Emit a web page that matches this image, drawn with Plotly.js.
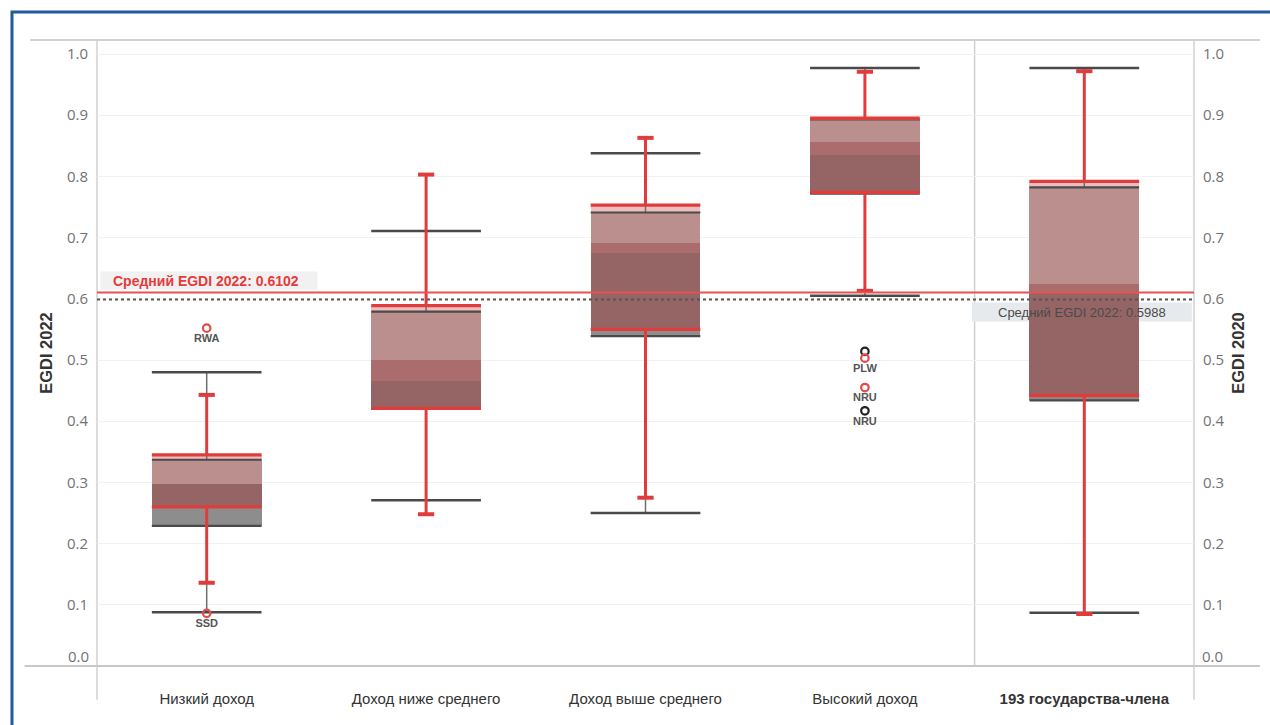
<!DOCTYPE html>
<html>
<head>
<meta charset="utf-8">
<script src="https://cdn.plot.ly/plotly-3.0.1.min.js"></script>
<style>
  html, body { margin: 0; padding: 0; background: #ffffff; }
  #chart { width: 1270px; height: 725px; }
</style>
</head>
<body>
<div id="chart"></div>
<script>
// Income groups (last column: all member states)
const categories = ['Низкий доход', 'Доход ниже среднего', 'Доход выше среднего', 'Высокий доход', '193 государства-члена'];

// EGDI 2022 box statistics
const q1_2022  = [0.260, 0.421, 0.550, 0.774, 0.442];
const med_2022 = [0.298, 0.500, 0.691, 0.857, 0.625];
const q3_2022  = [0.345, 0.589, 0.753, 0.895, 0.792];
const lo_2022  = [0.136, 0.248, 0.275, 0.613, 0.085];
const hi_2022  = [0.443, 0.803, 0.863, 0.971, 0.972];

// EGDI 2020 box statistics
const q1_2020  = [0.229, 0.420, 0.539, 0.772, 0.434];
const med_2020 = [0.297, 0.465, 0.675, 0.835, 0.611];
const q3_2020  = [0.337, 0.579, 0.741, 0.893, 0.782];
const lo_2020  = [0.088, 0.271, 0.250, 0.605, 0.087];
const hi_2020  = [0.480, 0.711, 0.838, 0.977, 0.977];

// Outlying countries
const out2022_cat = [0, 0, 3, 3];
const out2022_val = [0.552, 0.086, 0.503, 0.455];
const out2022_lab = ['RWA', 'SSD', 'PLW', 'NRU'];
const out2020_cat = [3, 3];
const out2020_val = [0.514, 0.417];
const out2020_lab = ['', 'NRU'];

// Averages
const MEAN_2022 = 0.6102;
const MEAN_2020 = 0.5988;
const meanLabel2022 = 'Средний EGDI 2022: 0.6102';
const meanLabel2020 = 'Средний EGDI 2022: 0.5988';

const yTitleLeft = 'EGDI 2022';
const yTitleRight = 'EGDI 2020';

// Value axis ticks (the zero label sits just above the base rule)
const yTicks = [0.1, 0.2, 0.3, 0.4, 0.5, 0.6, 0.7, 0.8, 0.9, 1.0];
const yZero = 0;

// ---- styling ----
const RED = '#e03c3c';
const DARK = '#4a4a4a';
const BOX_HALF = 0.25;
const RED_CAP_HALF = 0.037;
const FONT = 'Liberation Sans, Arial, sans-serif';
const TICK_FONT = { family: 'Open Sans, sans-serif', size: 15, color: '#727272' };

// Fill colour for each band, keyed by (2022 part, 2020 part):
// U = upper half of box, L = lower half, N = outside box
const BAND_COLORS = {
  UN: '#ecbebe', NU: '#c9c9c9', UU: '#bc8f8f', UL: '#aa6c6c',
  LU: '#aa6c6c', LL: '#956565', NL: '#8d8d8d', LN: '#d67777'
};

function part(v, q1, m, q3) {
  if (v >= q1 && v <= m) return 'L';
  if (v >= m && v <= q3) return 'U';
  return 'N';
}

// Split each pair of overlapping boxes into uniform bands
const buckets = {};
categories.forEach((c, i) => {
  const pts = [q1_2022[i], med_2022[i], q3_2022[i], q1_2020[i], med_2020[i], q3_2020[i]]
    .sort((a, b) => a - b);
  for (let k = 0; k < pts.length - 1; k++) {
    const lo = pts[k], hi = pts[k + 1];
    if (hi - lo <= 0) continue;
    const mid = (lo + hi) / 2;
    const key = part(mid, q1_2022[i], med_2022[i], q3_2022[i]) +
                part(mid, q1_2020[i], med_2020[i], q3_2020[i]);
    if (key === 'NN') continue;
    if (!buckets[key]) buckets[key] = { x: [], base: [], y: [] };
    buckets[key].x.push(i);
    buckets[key].base.push(lo);
    buckets[key].y.push(hi - lo);
  }
});

const traces = [];
Object.keys(buckets).forEach(key => {
  const b = buckets[key];
  traces.push({
    type: 'bar', x: b.x, base: b.base, y: b.y, width: 2 * BOX_HALF,
    marker: { color: BAND_COLORS[key], line: { width: 0 } },
    hoverinfo: 'skip', showlegend: false
  });
});

// Horizontal segments at given values, centred on category index
function hSegs(values, half) {
  const xs = [], ys = [];
  values.forEach((v, i) => { xs.push(i - half, i + half, null); ys.push(v, v, null); });
  return { xs, ys };
}
// Vertical segments between two value arrays
function vSegs(from, to) {
  const xs = [], ys = [];
  from.forEach((v, i) => { xs.push(i, i, null); ys.push(v, to[i], null); });
  return { xs, ys };
}
function lineTrace(seg, color, width) {
  return {
    type: 'scatter', mode: 'lines', x: seg.xs, y: seg.ys,
    line: { color: color, width: width }, hoverinfo: 'skip', showlegend: false, cliponaxis: false
  };
}
function concat(a, b) { return { xs: a.xs.concat(b.xs), ys: a.ys.concat(b.ys) }; }

// EGDI 2020: whiskers, caps and hinges
traces.push(lineTrace(concat(vSegs(q3_2020, hi_2020), vSegs(lo_2020, q1_2020)), '#6e6e6e', 1.5));
traces.push(lineTrace(concat(hSegs(hi_2020, BOX_HALF), hSegs(lo_2020, BOX_HALF)), DARK, 2.5));
traces.push(lineTrace(concat(hSegs(q1_2020, BOX_HALF), hSegs(q3_2020, BOX_HALF)), DARK, 2.2));

// EGDI 2022: whiskers, caps and hinges
traces.push(lineTrace(concat(vSegs(q3_2022, hi_2022), vSegs(lo_2022, q1_2022)), RED, 3));
traces.push(lineTrace(concat(hSegs(hi_2022, RED_CAP_HALF), hSegs(lo_2022, RED_CAP_HALF)), RED, 4));
traces.push(lineTrace(concat(hSegs(q1_2022, BOX_HALF), hSegs(q3_2022, BOX_HALF)), RED, 3.3));

// Outliers
const outFont = { family: FONT, size: 11, color: '#555555' };
traces.push({
  type: 'scatter', mode: 'markers+text', x: out2020_cat, y: out2020_val,
  text: out2020_lab.map(t => t ? '<b>' + t + '</b>' : ''),
  textposition: 'bottom center', textfont: outFont,
  marker: { symbol: 'circle-open', size: 7.5, color: '#222222', line: { width: 2.2 } },
  hoverinfo: 'skip', showlegend: false
});
traces.push({
  type: 'scatter', mode: 'markers+text', x: out2022_cat, y: out2022_val,
  text: out2022_lab.map(t => '<b>' + t + '</b>'),
  textposition: 'bottom center', textfont: outFont,
  marker: { symbol: 'circle-open', size: 7.5, color: '#e44a4a', line: { width: 2.2 } },
  hoverinfo: 'skip', showlegend: false
});

const Y_MAX = 1.0229;

const layout = {
  width: 1270, height: 725,
  margin: { l: 97, r: 76, t: 40, b: 59 },
  paper_bgcolor: '#ffffff', plot_bgcolor: '#ffffff',
  barmode: 'overlay', bargap: 0,
  showlegend: false,
  font: { family: FONT },
  xaxis: {
    type: 'linear', range: [-0.5, 4.5], fixedrange: true,
    tickvals: categories.map((c, i) => i),
    ticktext: categories.map((c, i) => i === categories.length - 1 ? '<b>' + c + '</b>' : c),
    tickfont: { family: FONT, size: 15, color: '#333333' },
    ticks: 'outside', ticklen: 19, tickcolor: 'rgba(0,0,0,0)',
    showgrid: false, zeroline: false, showline: false
  },
  yaxis: {
    range: [0, Y_MAX], fixedrange: true,
    tickvals: yTicks, tickformat: '.1f', tickfont: TICK_FONT,
    ticks: 'outside', ticklen: 5, tickcolor: 'rgba(0,0,0,0)',
    showgrid: true, gridcolor: '#f0f2f4', gridwidth: 1,
    zeroline: false, showline: false,
    title: { text: '<b>' + yTitleLeft + '</b>', font: { family: FONT, size: 16.5, color: '#333333' }, standoff: 10 }
  },
  yaxis2: {
    overlaying: 'y', side: 'right', range: [0, Y_MAX], fixedrange: true,
    tickvals: yTicks, tickformat: '.1f', tickfont: TICK_FONT,
    ticks: 'outside', ticklen: 5, tickcolor: 'rgba(0,0,0,0)',
    showgrid: false, zeroline: false, showline: false,
    title: { text: '<b>' + yTitleRight + '</b>', font: { family: FONT, size: 16.5, color: '#333333' }, standoff: 8 }
  },
  shapes: [
    // outer frame
    { type: 'rect', xref: 'paper', yref: 'paper', x0: -0.0775, x1: 1.2, y0: -0.2, y1: 1.0447,
      line: { color: '#1f5c9c', width: 3 }, layer: 'below' },
    // top and bottom rules
    { type: 'line', xref: 'paper', yref: 'paper', x0: -0.061, x1: 1.06, y0: 1, y1: 1,
      line: { color: '#d2d2d2', width: 2 }, layer: 'below' },
    { type: 'line', xref: 'paper', yref: 'paper', x0: -0.066, x1: 1.06, y0: 0, y1: 0,
      line: { color: '#c8c8c8', width: 2 }, layer: 'above' },
    // left and right axis rules
    { type: 'line', xref: 'paper', yref: 'paper', x0: 0, x1: 0, y0: -0.054, y1: 1,
      line: { color: '#d0d0d0', width: 1.5 }, layer: 'below' },
    { type: 'line', xref: 'paper', yref: 'paper', x0: 1, x1: 1, y0: -0.054, y1: 1,
      line: { color: '#d0d0d0', width: 1.5 }, layer: 'below' },
    // panel separator before the all-states column
    { type: 'line', xref: 'x', yref: 'paper', x0: 3.5, x1: 3.5, y0: 0, y1: 1,
      line: { color: '#d0d0d0', width: 1.5 }, layer: 'below' },
    // label backgrounds for the average lines
    { type: 'rect', xref: 'paper', yref: 'y', ysizemode: 'pixel', yanchor: MEAN_2022,
      x0: 0.003, x1: 0.201, y0: 3, y1: 21,
      fillcolor: '#f1f1f1', line: { width: 0 }, layer: 'below' },
    { type: 'rect', xref: 'paper', yref: 'y', ysizemode: 'pixel', yanchor: MEAN_2020,
      x0: 0.7976, x1: 0.998, y0: -3, y1: -22,
      fillcolor: '#e6eaec', line: { width: 0 }, layer: 'below' },
    // average lines
    { type: 'line', xref: 'paper', yref: 'y', x0: 0, x1: 1, y0: MEAN_2022, y1: MEAN_2022,
      line: { color: '#e85252', width: 2 }, layer: 'above' },
    { type: 'line', xref: 'paper', yref: 'y', x0: 0, x1: 1, y0: MEAN_2020, y1: MEAN_2020,
      line: { color: '#555555', width: 2, dash: 'dot' }, layer: 'above' }
  ],
  annotations: [
    { xref: 'paper', yref: 'y', x: 0.0128, y: MEAN_2022, xanchor: 'left', yanchor: 'middle',
      yshift: 12, showarrow: false, text: '<b>' + meanLabel2022 + '</b>',
      font: { family: FONT, size: 14, color: '#e83a3a' } },
    { xref: 'paper', yref: 'y', x: 0.898, y: MEAN_2020, xanchor: 'center', yanchor: 'middle',
      yshift: -13, showarrow: false, text: meanLabel2020,
      font: { family: FONT, size: 13, color: '#4a4a4a' } },
    // zero labels on both value axes
    { xref: 'paper', yref: 'y', x: 0, y: yZero, xanchor: 'right', yanchor: 'middle',
      xshift: -6, yshift: 10, showarrow: false, text: yZero.toFixed(1), font: TICK_FONT },
    { xref: 'paper', yref: 'y', x: 1, y: yZero, xanchor: 'left', yanchor: 'middle',
      xshift: 6, yshift: 10, showarrow: false, text: yZero.toFixed(1), font: TICK_FONT }
  ]
};

// keep the right-hand axis drawn with its own (empty) trace
traces.push({ type: 'scatter', x: [], y: [], yaxis: 'y2', hoverinfo: 'skip', showlegend: false });

Plotly.newPlot('chart', traces, layout, { displayModeBar: false, staticPlot: true });
</script>
</body>
</html>
